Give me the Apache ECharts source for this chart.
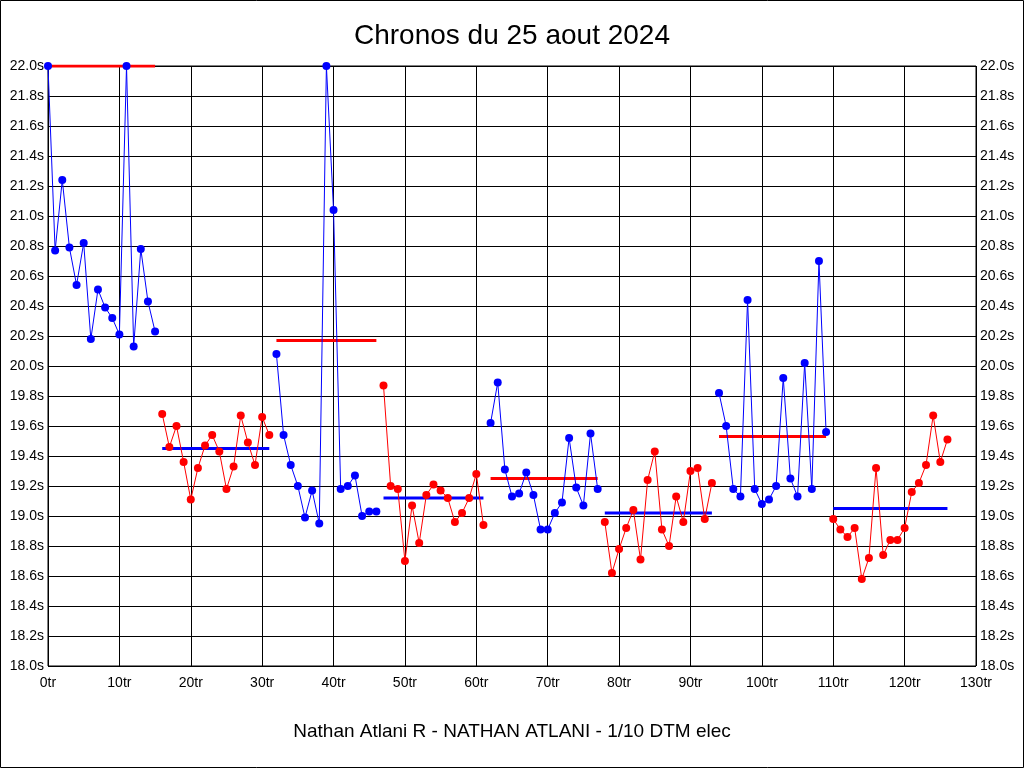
<!DOCTYPE html>
<html>
<head>
<meta charset="utf-8">
<script src="https://cdn.jsdelivr.net/npm/echarts@6/dist/echarts.min.js"></script>
<style>
html,body{margin:0;padding:0;background:#fff;}
#c{width:1024px;height:768px;}
</style>
</head>
<body>
<div id="c"></div>
<script>
// Lap times per run (seconds); each run starts at the given lap number
const runStarts = [0, 16, 32, 47, 62, 78, 94, 110];
const run1 = [22.0, 20.77, 21.24, 20.79, 20.54, 20.82, 20.18, 20.51, 20.39, 20.32, 20.21, 22.0, 20.13, 20.78, 20.43, 20.23];
const run2 = [19.68, 19.46, 19.60, 19.36, 19.11, 19.32, 19.47, 19.54, 19.43, 19.18, 19.33, 19.67, 19.49, 19.34, 19.66, 19.54];
const run3 = [20.08, 19.54, 19.34, 19.20, 18.99, 19.17, 18.95, 22.0, 21.04, 19.18, 19.20, 19.27, 19.00, 19.03, 19.03];
const run4 = [19.87, 19.20, 19.18, 18.70, 19.07, 18.82, 19.14, 19.21, 19.17, 19.12, 18.96, 19.02, 19.12, 19.28, 18.94];
const run5 = [19.62, 19.89, 19.31, 19.13, 19.15, 19.29, 19.14, 18.91, 18.91, 19.02, 19.09, 19.52, 19.19, 19.07, 19.55, 19.18];
const run6 = [18.96, 18.62, 18.78, 18.92, 19.04, 18.71, 19.24, 19.43, 18.91, 18.80, 19.13, 18.96, 19.30, 19.32, 18.98, 19.22];
const run7 = [19.82, 19.60, 19.18, 19.13, 20.44, 19.18, 19.08, 19.11, 19.20, 19.92, 19.25, 19.13, 20.02, 19.18, 20.70, 19.56];
const run8 = [18.98, 18.91, 18.86, 18.92, 18.58, 18.72, 19.32, 18.74, 18.84, 18.84, 18.92, 19.16, 19.22, 19.34, 19.67, 19.36, 19.51];
const runs = [run1, run2, run3, run4, run5, run6, run7, run8];
// Average line value for each run
const runAverages = [22.0, 19.45, 20.17, 19.12, 19.25, 19.02, 19.53, 19.05];
const runColors = ['#0000ff', '#ff0000'];
const xTicks = {min: 0, max: 130, step: 10, unit: 'tr'};
const yTicks = {min: 18.0, max: 22.0, step: 0.2, unit: 's'};

const FONT = '"Liberation Sans", Arial, sans-serif';
const series = [];
runs.forEach((vals, i) => {
  const start = runStarts[i];
  const color = runColors[i % 2];
  const avgColor = runColors[(i + 1) % 2];
  const end = start + vals.length - 1;
  series.push({
    type: 'line',
    data: [[start, runAverages[i]], [end, runAverages[i]]],
    symbol: 'none',
    lineStyle: {color: avgColor, width: 3},
    z: 3,
    silent: true
  });
  series.push({
    type: 'line',
    data: vals.map((v, k) => [start + k, v]),
    symbol: 'circle',
    symbolSize: 8,
    itemStyle: {color: color},
    lineStyle: {color: color, width: 1},
    z: 4,
    silent: true
  });
});

const yAxisCommon = {
  type: 'value',
  min: yTicks.min,
  max: yTicks.max,
  interval: yTicks.step,
  axisLine: {show: false},
  axisTick: {show: false},
  axisLabel: {
    color: '#000',
    fontFamily: FONT,
    fontSize: 14,
    margin: 4,
    formatter: v => v.toFixed(1) + yTicks.unit
  }
};

const chart = echarts.init(document.getElementById('c'), null, {renderer: 'canvas'});
chart.setOption({
  animation: false,
  backgroundColor: '#fff',
  title: {
    text: 'Chronos du 25 aout 2024',
    left: 'center',
    top: 17,
    textStyle: {fontFamily: FONT, fontSize: 28, fontWeight: 'normal', color: '#000'}
  },
  graphic: [
    {type: 'rect', shape: {x: 0.5, y: 0.5, width: 1023, height: 767}, style: {fill: 'none', stroke: '#000', lineWidth: 1}, silent: true},
    {type: 'text', left: 'center', top: 722, style: {text: 'Nathan Atlani R - NATHAN ATLANI - 1/10 DTM elec', font: '19px "Liberation Sans", Arial, sans-serif', fill: '#000'}}
  ],
  grid: {left: 48, right: 48, top: 66, bottom: 102, show: true, borderColor: '#000', borderWidth: 1, containLabel: false},
  xAxis: {
    type: 'value',
    min: xTicks.min,
    max: xTicks.max,
    interval: xTicks.step,
    axisLine: {show: false},
    axisTick: {show: false},
    splitLine: {show: true, lineStyle: {color: '#000', width: 1}},
    axisLabel: {color: '#000', fontFamily: FONT, fontSize: 14, margin: 10, formatter: v => v + xTicks.unit}
  },
  yAxis: [
    Object.assign({}, yAxisCommon, {position: 'left', splitLine: {show: true, lineStyle: {color: '#000', width: 1}}}),
    Object.assign({}, yAxisCommon, {position: 'right', splitLine: {show: false}})
  ],
  series: series
});
</script>
</body>
</html>
